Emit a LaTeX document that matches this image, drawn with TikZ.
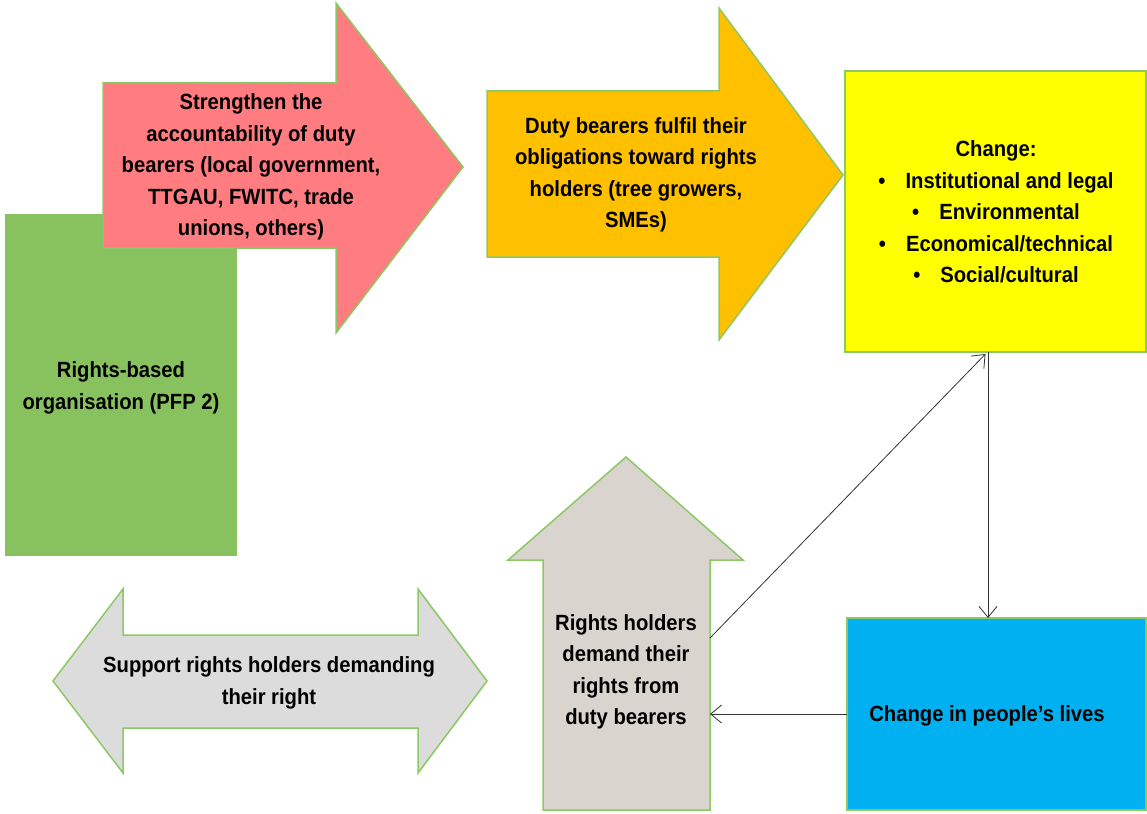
\documentclass[tikz,border=0pt]{standalone}
\usepackage{fontspec}
\setmainfont[FakeStretch=0.92]{Liberation Sans}
\usetikzlibrary{arrows.meta,calc}
\definecolor{greenbox}{RGB}{135,194,95}
\definecolor{pinkarr}{RGB}{255,124,128}
\definecolor{orangearr}{RGB}{255,192,0}
\definecolor{yellowbox}{RGB}{255,255,0}
\definecolor{bluebox}{RGB}{0,176,240}
\definecolor{taupearr}{RGB}{218,212,207}
\definecolor{greyarr}{RGB}{220,220,220}
\definecolor{bord}{RGB}{140,200,100}
\definecolor{lineg}{RGB}{50,50,50}
\begin{document}
\begin{tikzpicture}[x=1pt,y=-1pt,
  shp/.style={draw=bord, line width=1.5pt, line join=miter},
  boxn/.style={shp, anchor=north west, inner sep=0pt, outer sep=0pt},
  lbl/.style={font=\bfseries\fontsize{22}{31.5}\selectfont, align=center, text=black, inner sep=0pt},
  conn/.style={draw=lineg, line width=0.8pt, -{Straight Barb[length=11pt,width=18pt,line width=0.8pt]}}
]
\useasboundingbox (0,0) rectangle (1147,813);

% green rectangle
\node[boxn, draw=greenbox, fill=greenbox, minimum width=230, minimum height=340] (rbo) at (6,215) {};
\node[lbl] (rbot) at (121,388) {Rights-based\\organisation (PFP 2)};

% red arrow
\path[shp, fill=pinkarr] (103,83) -- (336,83) -- (336,3) -- (463,167) -- (336,333) -- (336,248) -- (103,248) -- cycle;
\node[lbl] (acc) at (251,167) {Strengthen the\\accountability of duty\\bearers (local government,\\TTGAU, FWITC, trade\\unions, others)};

% orange arrow
\path[shp, fill=orangearr] (487,91) -- (719,91) -- (719,8) -- (843,175) -- (719,340) -- (719,257) -- (487,257) -- cycle;
\node[lbl] (duty) at (636,175) {Duty bearers fulfil their\\obligations toward rights\\holders (tree growers,\\SMEs)};

% yellow box
\node[boxn, fill=yellowbox, minimum width=301, minimum height=281] (change) at (845,71) {};
\node[lbl] (changet) at (996,212) {Change:\\\textbullet\hspace{20pt}Institutional and legal\\\textbullet\hspace{20pt}Environmental\\\textbullet\hspace{20pt}Economical/technical\\\textbullet\hspace{20pt}Social/cultural};

% blue box
\node[boxn, fill=bluebox, minimum width=299, minimum height=192] (lives) at (847,618) {};
\node[lbl] (livest) at (987,716) {Change in people’s lives};

% up arrow
\path[shp, fill=taupearr] (543,810) -- (543,560) -- (508,560) -- (626,457) -- (743,560) -- (710,560) -- (710,810) -- cycle;
\node[inner sep=0pt, outer sep=0pt, minimum width=167, minimum height=250, anchor=north west] (rh) at (543,560) {};
\node[lbl] (rht) at (626,672) {Rights holders\\demand their\\rights from\\duty bearers};

% double arrow
\path[shp, fill=greyarr] (53,681) -- (123,589) -- (123,635) -- (418,635) -- (418,589) -- (487,681) -- (418,773) -- (418,728) -- (123,728) -- (123,773) -- cycle;
\node[lbl] (sup) at (269,683) {Support rights holders demanding\\their right};

% connectors
\draw[conn] ($(rh.north east)+(0,78)$) -- ($(change.south)+(-10,2)$);
\draw[conn] ($(change.south)+(-7.5,0)$) -- ($(lives.north)+(-8.5,0)$);
\draw[conn] (lives.west) -- (lives.west -| rh.east);
\end{tikzpicture}
\end{document}
